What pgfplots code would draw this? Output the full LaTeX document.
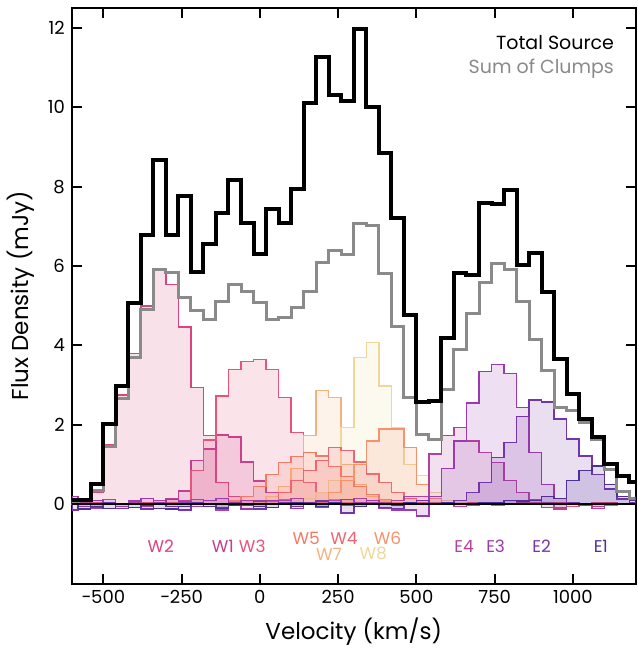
\documentclass[border=0pt]{standalone}
\usepackage{fontspec}
\setmainfont{Poppins}
\usepackage{pgfplots}
\usepackage{pgfplotstable}
\pgfplotsset{compat=1.18}

\definecolor{cW1}{HTML}{C23E8E}
\definecolor{cW2}{HTML}{DA447E}
\definecolor{cW3}{HTML}{E8537A}
\definecolor{cW4}{HTML}{EE6470}
\definecolor{cW5}{HTML}{F57A66}
\definecolor{cW6}{HTML}{F6936C}
\definecolor{cW7}{HTML}{F6B27C}
\definecolor{cW8}{HTML}{EFD79C}
\definecolor{cE1}{HTML}{4F2F98}
\definecolor{cE2}{HTML}{7535AA}
\definecolor{cE3}{HTML}{9A3AAE}
\definecolor{cE4}{HTML}{B2409E}
\definecolor{cSum}{HTML}{8A8A8A}

% left bin edges (km/s), cut to the axis range; last row closes the final bin
\pgfplotstableread{
x     tot   sum   W1    W2    W3    W4    W5    W6    W7    W8    E1    E2    E3    E4
-600  0.10  0.05  0.00  0.08  0.02  0     0     0     0     0     0.05  -0.15 0.20  0.10
-580  0.10  0.10  0.02  0.05  0.00  0     0     0     0     0     -0.12 0.02  -0.05 0.05
-540  0.51  0.35  0.00  0.30  0.03  0     0     0     0     0     -0.05 -0.08 0.10  -0.10
-500  2.02  1.45  0.05  1.50  0.00  0     0     0     0     0     -0.10 0.05  0.00  0.12
-460  2.97  2.67  0.00  2.75  0.02  0     0     0     0     0     0.00  -0.10 -0.05 0.00
-420  5.07  3.70  0.03  3.80  0.00  0     0     0     0     0     -0.08 0.00  0.10  0.08
-380  6.77  4.91  0.05  5.00  0.03  0     0     0     0     0     -0.03 -0.12 0.15  -0.05
-340  8.66  5.92  0.10  5.92  0.02  0     0     0     0     0     -0.10 0.00  0.05  0.10
-300  6.77  5.84  0.15  5.54  0.05  0     0     0     0     0     -0.12 -0.05 0.12  0.00
-260  7.76  5.22  0.34  4.47  0.10  0     0     0     0     0     -0.05 -0.15 0.05  0.08
-220  5.85  4.87  1.10  2.94  0.85  0     0     0     0     0     0.02  0.05  -0.05 0.12
-180  6.55  4.66  1.39  1.73  1.62  0     0     0     0     0     -0.05 0.00  0.10  0.00
-140  7.33  5.12  1.75  0.55  2.73  0     0     0     0     0     -0.10 -0.08 0.15  -0.15
-100  8.16  5.54  1.69  0.20  3.40  0     0.08  0     0     0     -0.03 0.02  0.05  0.05
-60   7.08  5.35  1.06  0.10  3.60  0     0.20  0     0     0     0.00  -0.03 -0.12 0.10
-20   6.30  5.08  0.59  0.05  3.65  0     0.45  0     0.05  0     -0.05 -0.12 0.08  -0.05
20    7.43  4.66  0.30  0.08  3.40  0.10  0.75  0     0.20  0     -0.08 0.00  0.10  0.00
60    7.08  4.70  0.12  0.02  2.69  0.30  1.05  0     0.45  0     0.02  0.05  0.00  0.10
100   7.95  4.96  0.05  0.05  1.81  0.60  1.20  0.05  0.90  0.05  0.05  -0.05 -0.10 0.15
140   10.11 5.35  0.02  0.00  0.55  0.85  1.30  0.05  1.73  0.15  0.00  0.03  0.05  0.05
180   11.27 6.09  0.00  0.05  0.30  1.10  1.22  0.10  2.86  0.30  -0.05 0.08  -0.08 -0.05
220   10.30 6.38  0.03  0.02  0.12  1.43  0.95  0.30  2.69  0.60  0.03  0.00  0.00  0.10
260   10.15 6.30  0.00  -0.03 0.05  1.35  0.70  0.60  1.00  1.93  0.00  -0.22 0.12  0.00
300   11.98 7.08  0.02  0.04  0.02  1.06  0.45  1.00  0.50  3.70  -0.05 -0.05 0.05  0.15
340   10.00 7.03  0.00  0.02  0.03  0.76  0.25  1.60  0.20  4.08  0.02  0.02  0.10  0.05
380   8.85  5.81  0.03  0.00  0.00  0.55  0.12  1.89  0.08  2.98  0.00  -0.08 -0.10 0.05
420   7.22  4.47  0.00  0.03  0.02  0.30  0.05  1.89  0.03  1.93  -0.03 -0.10 -0.15 0.10
460   4.77  2.69  0.02  0.00  0.00  0.15  0.02  1.43  0     1.00  0.05  0.05  -0.15 0.20
500   2.57  1.77  0.00  0.05  0.03  0.05  0     0.50  0     0.72  0.02  0.10  -0.30 0.20
540   2.60  1.63  0.03  0.02  0.00  0.02  0     0.15  0     0.30  0.00  0.02  0.20  1.27
580   4.20  2.90  0.00  0.00  0.02  0     0     0.05  0     0.10  0.03  0.05  0.90  1.73
620   5.83  3.91  -0.05 0.02  0.00  0     0     0     0     0.03  0.00  0.10  1.60  1.94
660   5.77  4.81  0.02  -0.02 0.03  0     0     0     0     0     0.02  0.30  2.55  1.60
700   7.60  5.58  0.00  0.03  0.00  0     0     0     0     0     0.05  0.55  3.35  1.30
740   7.56  6.07  0.03  0.00  -0.03 0     0     0     0     0     0.05  1.18  3.52  1.05
780   7.91  5.92  0.00  0.02  0.00  0     0     0     0     0     0.10  1.56  3.30  0.60
820   6.02  5.12  0.05  0.05  0.02  0     0     0     0     0     0.08  2.21  2.44  0.30
860   6.34  4.16  0.00  0.00  0.05  0     0     0     0     0     0.10  2.63  1.30  0.12
900   5.35  3.36  -0.08 0.02  0.00  0     0     0     0     0     0.20  2.58  0.50  0.05
940   3.66  2.44  -0.12 0.00  0.03  0     0     0     0     0     0.15  2.15  0.15  -0.08
980   2.78  2.36  0.00  0.05  -0.05 0     0     0     0     0     0.60  1.64  0.05  0.00
1020  2.15  2.07  0.02  0.02  0.00  0     0     0     0     0     0.85  1.22  -0.02 0.02
1060  1.69  1.62  -0.10 0.00  0.05  0     0     0     0     0     0.97  0.75  0.00  -0.05
1100  1.01  0.88  0.00  0.03  -0.03 0     0     0     0     0     0.50  0.38  0.02  0.00
1140  0.72  0.33  0.02  0.00  0.00  0     0     0     0     0     0.20  0.13  0.00  0.02
1180  0.55  0.15  0.00  0.02  0.02  0     0     0     0     0     0.10  0.05  0.00  0.00
1200  0.55  0.15  0.00  0.02  0.02  0     0     0     0     0     0.10  0.05  0.00  0.00
}\spec

\newcommand{\clump}[2]{%
  \addplot[const plot, draw=#2, line width=0.75pt, fill=#2, fill opacity=0.16]
    table[x=x, y=#1] {\spec} \closedcycle;}

\begin{document}
\begin{tikzpicture}
\begin{axis}[
  width=282pt, height=288pt, scale only axis,
  xmin=-600, xmax=1200, ymin=-2, ymax=12.5,
  xtick={-500,-250,0,250,500,750,1000},
  xticklabels={−500,−250,0,250,500,750,1000},
  ytick={0,2,4,6,8,10,12},
  yticklabels={0,2,4,6,8,10,12},
  tick align=inside, major tick length=5pt,
  axis line style={line width=1pt},
  tick style={line width=1pt, black},
  ticklabel style={font=\fontsize{9}{10}\selectfont},
  xlabel={Velocity (km/s)},
  ylabel={Flux Density (mJy)},
  label style={font=\fontsize{11.5}{13}\selectfont},
]
\clump{W2}{cW2}
\clump{W1}{cW1}
\clump{W3}{cW3}
\clump{W7}{cW7}
\clump{W8}{cW8}
\clump{W5}{cW5}
\clump{W4}{cW4}
\clump{W6}{cW6}
\clump{E4}{cE4}
\clump{E3}{cE3}
\clump{E2}{cE2}
\clump{E1}{cE1}

\addplot[const plot, cSum, line width=1.5pt] table[x=x, y=sum] {\spec};
\addplot[const plot, black, line width=2pt] table[x=x, y=tot] {\spec};
\addplot[black, line width=0.8pt] coordinates {(-600,0) (1200,0)};

\begin{scope}[font=\fontsize{8.5}{10}\selectfont]
\node[text=cW2] at (axis cs:-316,-1.05) {W2};
\node[text=cW1] at (axis cs:-118,-1.05) {W1};
\node[text=cW3] at (axis cs:-24,-1.05) {W3};
\node[text=cW5] at (axis cs:148,-0.85) {W5};
\node[text=cW4] at (axis cs:269,-0.85) {W4};
\node[text=cW6] at (axis cs:408,-0.85) {W6};
\node[text=cW7] at (axis cs:221,-1.25) {W7};
\node[text=cW8] at (axis cs:362,-1.25) {W8};
\node[text=cE4] at (axis cs:652,-1.05) {E4};
\node[text=cE3] at (axis cs:753,-1.05) {E3};
\node[text=cE2] at (axis cs:900,-1.05) {E2};
\node[text=cE1] at (axis cs:1089,-1.05) {E1};
\end{scope}

\node[anchor=east, inner sep=0pt, font=\fontsize{9.5}{11}\selectfont, text=black] at (axis cs:1132,11.63) {Total Source};
\node[anchor=east, inner sep=0pt, font=\fontsize{9.5}{11}\selectfont, text=cSum] at (axis cs:1132,10.98) {Sum of Clumps};
\end{axis}
\path ([xshift=1pt, yshift=4pt]current axis.north east);
\end{tikzpicture}
\end{document}
